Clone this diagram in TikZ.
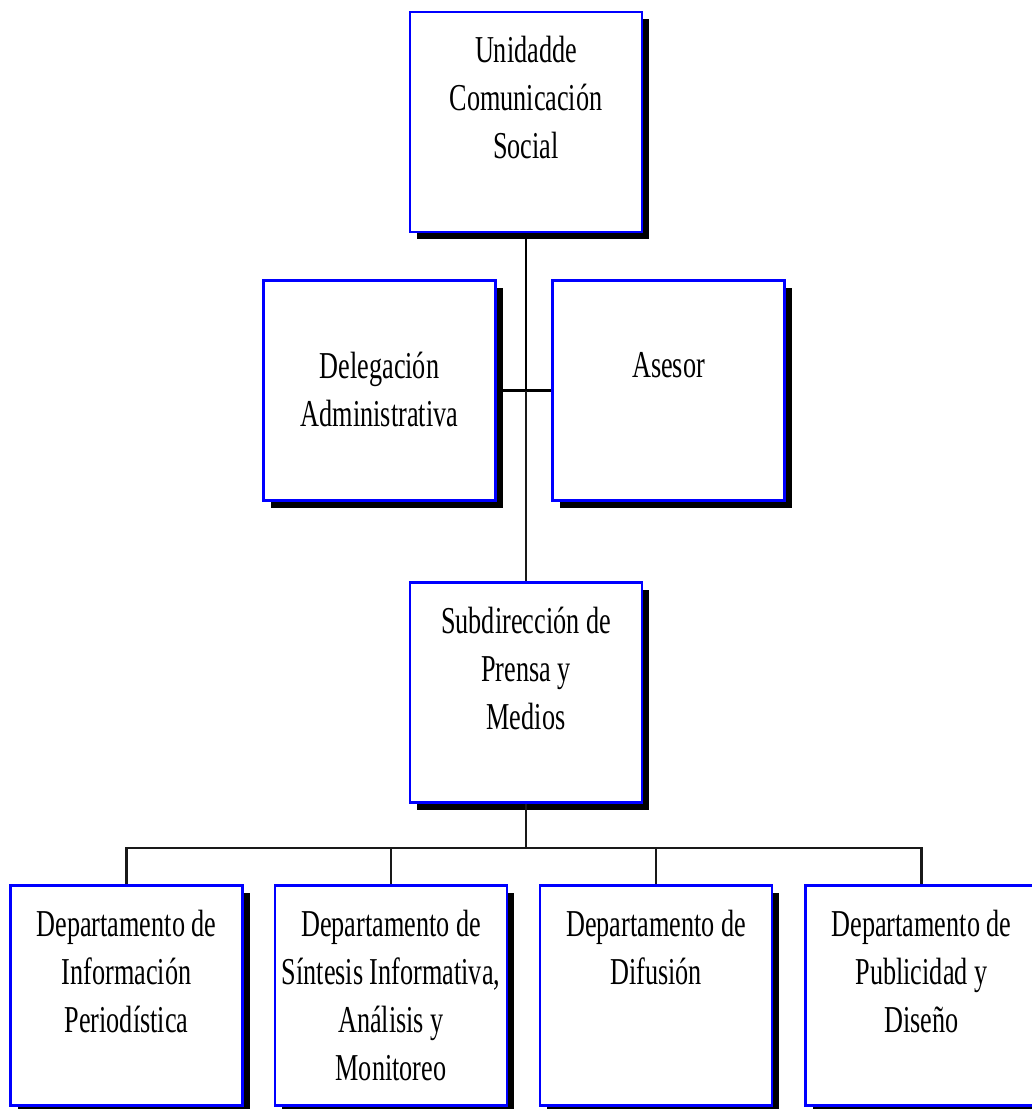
\documentclass[tikz,border=0pt]{standalone}
\usepackage{fontspec}
\setmainfont{Liberation Serif}[FakeStretch=0.69]
\usetikzlibrary{shadows}

\tikzset{
  unit/.style={draw=blue, line width=2.5pt, fill=white,
    minimum width=232pt, minimum height=220pt, inner sep=0pt,
    drop shadow={shadow xshift=7pt, shadow yshift=-7pt, fill=black, opacity=1}},
  lbl/.style={anchor=north, align=center, inner sep=0pt,
    font=\fontsize{38}{48}\selectfont},
  wire/.style={draw=black, line width=2.8pt},
  thinwire/.style={draw=black!90, line width=2.3pt}
}

\begin{document}
\begin{tikzpicture}[x=1pt, y=-1pt]
  \useasboundingbox (0,0) rectangle (1032,1109);
  \clip (0,0) rectangle (1032,1109);

  % head of the unit
  \node[unit] (head) at (526,122) {};
  \node[lbl] (headT) at ([yshift=-25.5pt]head.north) {Unidadde\\Comunicación\\Social};

  % staff units
  \node[unit] (deleg) at (379.5,390.5) {};
  \node[lbl] (delegT) at ([yshift=-72.5pt]deleg.north) {Delegación\\Administrativa};
  \node[unit] (asesor) at (668.5,390.5) {};
  \node[lbl] (asesorT) at ([yshift=-72.5pt]asesor.north) {Asesor};

  % sub-directorate
  \node[unit] (sub) at (526,692.5) {};
  \node[lbl] (subT) at ([yshift=-25.5pt]sub.north) {Subdirección de\\Prensa y\\Medios};

  % departments
  \node[unit] (d1) at (126.5,995.5) {};
  \node[lbl] (d1T) at ([yshift=-25.5pt]d1.north) {Departamento de\\Información\\Periodística};
  \node[unit] (d2) at (391,995.5) {};
  \node[lbl] (d2T) at ([yshift=-25.5pt]d2.north) {Departamento de\\Síntesis Informativa,\\Análisis y\\Monitoreo};
  \node[unit] (d3) at (656,995.5) {};
  \node[lbl] (d3T) at ([yshift=-25.5pt]d3.north) {Departamento de\\Difusión};
  \node[unit] (d4) at (921.5,995.5) {};
  \node[lbl] (d4T) at ([yshift=-25.5pt]d4.north) {Departamento de\\Publicidad y\\Diseño};

  % connectors
  \coordinate (mid) at (head.south |- deleg.east);
  \coordinate (bus) at (526,848);
  \draw[wire] (head.south) -- (mid);
  \draw[wire] (deleg.east) -- (asesor.west);
  \draw[thinwire] (mid) -- (sub.north);
  \draw[thinwire] (sub.south) -- (bus);
  \draw[thinwire] (d1.north) -- (d1.north |- bus) -- (d4.north |- bus) -- (d4.north);
  \draw[thinwire] (d2.north) -- (d2.north |- bus);
  \draw[thinwire] (d3.north) -- (d3.north |- bus);
\end{tikzpicture}
\end{document}
